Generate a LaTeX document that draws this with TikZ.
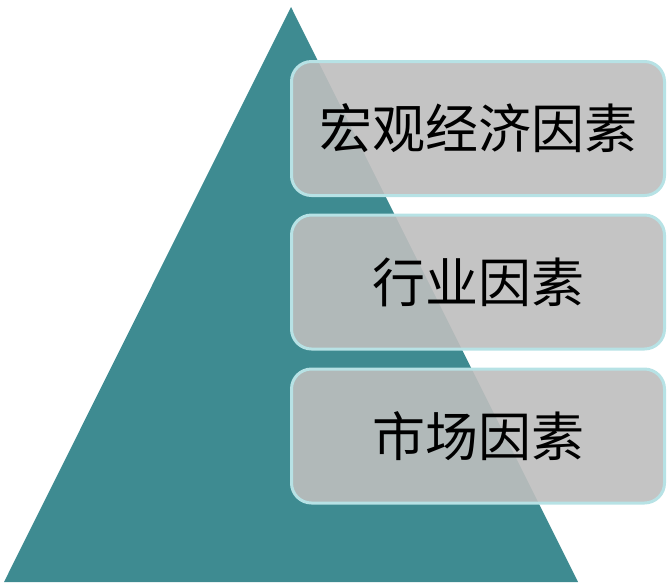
\documentclass[tikz,border=0pt]{standalone}
\usepackage{fontspec}
\newfontfamily\cjk{Noto Sans CJK SC}
\definecolor{teal1}{RGB}{62,139,145}
\definecolor{boxgray}{RGB}{190,190,190}
\definecolor{boxline}{RGB}{183,226,229}
\begin{document}
\begin{tikzpicture}[x=1pt,y=-1pt,%
% common options for the factor boxes:
factor/.style = {draw=boxline, line width=3pt, fill=boxgray, fill opacity=0.9,
            text opacity=1, rounded corners=20pt, minimum width=373pt,
            minimum height=134pt, inner sep=0, align=center,
            font=\cjk\fontsize{53}{53}\selectfont}]
\useasboundingbox (0,0) rectangle (668,582);
% the pyramid
\coordinate (top) at (291,7);
\coordinate (bl) at (4,582);
\coordinate (br) at (578,582);
\fill[teal1] (top) -- (br) -- (bl) -- cycle;
\node[factor] (F1) at (478,128.5) {宏观经济因素};
\node[factor] (F2) at (478,282) {行业因素};
\node[factor] (F3) at (478,436) {市场因素};
\end{tikzpicture}
\end{document}
